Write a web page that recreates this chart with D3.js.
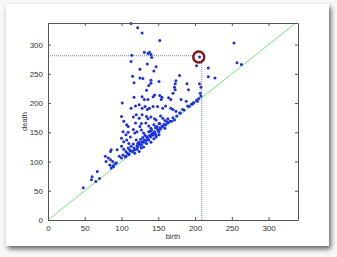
<!DOCTYPE html>
<html lang="en">
<head>
    <meta charset="UTF-8">
    <title>Persistence diagram</title>
    <script src="https://d3js.org/d3.v7.min.js"></script>
    <style>
        body { margin: 0; background: #f2f2f2; }
        svg { display: block; }
    </style>
</head>
<body>
    <svg width="337" height="257"></svg>
    <script>
        // points (birth, death)
        const birth = [113,122,128,152,253,114,113,131,138,140,136,141,135,125,147,144,206,202,218,218,227,257,263,
            115,125,129,117,140,151,140,137,179,174,173,189,206,208,207,191,172,173,170,134,117,128,131,136,143,145,
            152,154,155,164,167,181,188,192,197,203,101,113,119,124,128,132,135,138,143,149,156,160,167,170,174,179,183,
            100,116,120,124,128,134,136,140,145,147,153,156,159,163,168,172,103,107,109,119,125,127,133,137,140,144,147,151,
            155,159,102,106,109,112,116,118,121,127,130,134,137,140,144,147,151,100,103,107,110,113,116,120,124,127,130,134,
            137,140,144,147,151,100,103,106,109,111,115,118,121,124,127,102,106,110,97,100,86,85,94,78,82,85,88,79,84,88,91,93,
            86,89,67,60,59,65,70,48,
            105,110,115,118,122,126,130,133,136,140,143,146,150,153,156,160,163,166,170,175,180,185,190,195,198,202,205,208,
            108,112,117,121,124,128,131,135,138,142,145,149,152,158,162,126,132,139,146,152,122,129,141,148];
        const death = [336,329,320,307,303,282,271,287,287,283,285,278,267,258,262,255,279,264,260,245,243,269,266,
            246,243,242,235,239,237,234,230,247,238,233,233,233,227,217,223,227,223,217,222,210,211,206,206,211,214,
            213,206,210,209,206,206,203,194,199,203,200,191,195,197,191,194,189,191,194,194,191,195,191,189,186,183,189,
            177,176,180,174,180,177,173,176,173,171,178,174,170,173,169,171,169,163,160,166,160,165,166,161,157,163,159,165,
            161,157,151,146,150,142,155,149,151,154,149,143,151,146,149,144,151,140,134,137,131,126,130,137,133,129,125,131,
            137,133,139,142,146,126,121,117,123,120,117,114,121,117,123,111,109,113,109,106,120,117,120,109,106,103,100,100,94,93,96,98,
            89,91,83,74,69,66,71,55,
            108,112,118,120,125,128,133,136,139,143,146,148,153,156,160,163,166,169,175,178,183,188,195,198,201,205,208,212,
            114,118,123,127,130,134,137,141,144,148,151,155,158,164,168,138,145,152,158,165,131,141,154,160];

        // highlighted feature
        const pick = {birth: 205, death: 279};
        const guideX = 209, guideY = 281;

        const xTicks = [0, 50, 100, 150, 200, 250, 300];
        const yTicks = [0, 50, 100, 150, 200, 250, 300];

        const svg = d3.select("svg");
        const margin = {top: 23, right: 39, bottom: 37, left: 48};
        const width = 337, height = 257;

        // card with drop shadow
        const defs = svg.append("defs");
        const f = defs.append("filter").attr("id", "shadow")
            .attr("x", "-5%").attr("y", "-5%").attr("width", "112%").attr("height", "115%");
        f.append("feDropShadow").attr("dx", 2).attr("dy", 3).attr("stdDeviation", 2.5)
            .attr("flood-color", "#000").attr("flood-opacity", 0.6);

        svg.append("rect").attr("width", width).attr("height", height).attr("fill", "#f7f7f7");
        svg.append("rect")
            .attr("x", 6).attr("y", 4).attr("width", 323).attr("height", 242)
            .attr("fill", "#fff").attr("filter", "url(#shadow)");

        const x = d3.scaleLinear().domain([0, 340]).range([margin.left, width - margin.right]);
        const y = d3.scaleLinear().domain([0, 337]).range([height - margin.bottom, margin.top]);

        // diagonal
        svg.append("line")
            .attr("x1", x(0)).attr("y1", y(0))
            .attr("x2", x(337)).attr("y2", y(337))
            .attr("stroke", "#6cf06c").attr("stroke-width", 1);

        // dotted guides
        svg.append("line")
            .attr("x1", x(0)).attr("y1", y(guideY))
            .attr("x2", x(pick.birth - 4)).attr("y2", y(guideY))
            .attr("stroke", "#5f7ff2").attr("stroke-width", 1).attr("stroke-dasharray", "1,1");
        svg.append("line")
            .attr("x1", x(guideX)).attr("y1", y(0))
            .attr("x2", x(guideX)).attr("y2", y(pick.death - 6))
            .attr("stroke", "#5f7ff2").attr("stroke-width", 1).attr("stroke-dasharray", "1,1");

        // points
        svg.append("g").selectAll("circle")
            .data(birth.map((b, i) => ({b: b, d: death[i]})))
            .join("circle")
            .attr("cx", p => x(p.b))
            .attr("cy", p => y(p.d))
            .attr("r", 1.5)
            .attr("fill", "#1a2ef0");

        // highlight ring
        svg.append("circle")
            .attr("cx", x(pick.birth)).attr("cy", y(pick.death))
            .attr("r", 5.5)
            .attr("fill", "none")
            .attr("stroke", "#8c1418")
            .attr("stroke-width", 2.5);

        // axes (MATLAB style box, ticks inside)
        const axisColor = "#555";
        const gBottom = svg.append("g")
            .attr("transform", `translate(0,${y(0)})`)
            .call(d3.axisBottom(x).tickValues(xTicks).tickSizeInner(-3).tickSizeOuter(0).tickPadding(5));
        const gLeft = svg.append("g")
            .attr("transform", `translate(${x(0)},0)`)
            .call(d3.axisLeft(y).tickValues(yTicks).tickSizeInner(-3).tickSizeOuter(0).tickPadding(5));
        const gTop = svg.append("g")
            .attr("transform", `translate(0,${y(337)})`)
            .call(d3.axisTop(x).tickValues(xTicks).tickSizeInner(-3).tickSizeOuter(0).tickFormat(""));
        const gRight = svg.append("g")
            .attr("transform", `translate(${x(340)},0)`)
            .call(d3.axisRight(y).tickValues(yTicks).tickSizeInner(-3).tickSizeOuter(0).tickFormat(""));

        [gBottom, gLeft, gTop, gRight].forEach(g => {
            g.selectAll("path, line").attr("stroke", axisColor);
            g.selectAll("text")
                .attr("fill", "#333")
                .style("font-family", "Liberation Sans, Arial, sans-serif")
                .style("font-size", "8px");
        });

        svg.append("text")
            .attr("x", (x(0) + x(340)) / 2).attr("y", 239)
            .attr("text-anchor", "middle")
            .attr("fill", "#333")
            .style("font-family", "Liberation Sans, Arial, sans-serif")
            .style("font-size", "7.5px")
            .text("birth");

        svg.append("text")
            .attr("transform", `translate(27,${(y(0) + y(337)) / 2}) rotate(-90)`)
            .attr("text-anchor", "middle")
            .attr("fill", "#333")
            .style("font-family", "Liberation Sans, Arial, sans-serif")
            .style("font-size", "7.5px")
            .text("death");
    </script>
</body>
</html>
